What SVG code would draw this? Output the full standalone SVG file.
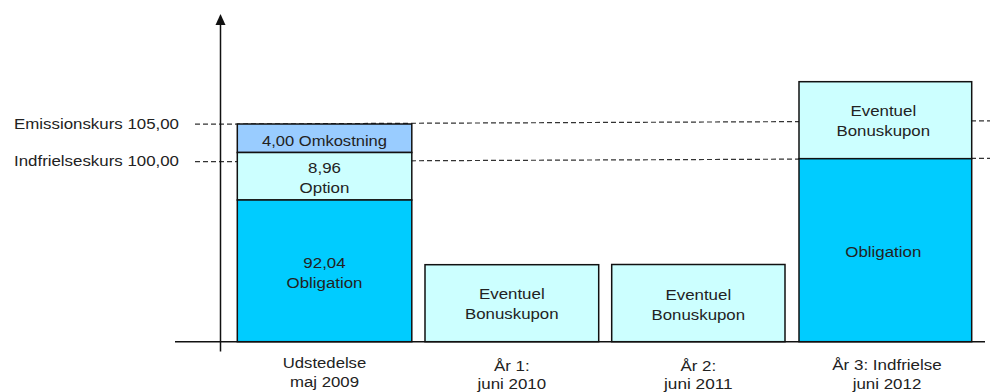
<svg xmlns="http://www.w3.org/2000/svg" width="994" height="392" viewBox="0 0 994 392">
<style>
text{font-family:"Liberation Sans",Arial,sans-serif;font-size:15.5px;fill:#222}
.c{text-anchor:middle}
.box{stroke:#111;stroke-width:1.5}
.omk{fill:#99CCFF}
.opt{fill:#CCFFFF}
.obl{fill:#00CCFF}
.dash{stroke:#333;stroke-width:1.2;stroke-dasharray:5,3;fill:none}
.axis{stroke:#111;stroke-width:1.5;fill:none}
</style>
<rect width="994" height="392" fill="#fff"/>

<g id="connectors">
<line class="dash" x1="195" y1="124.2" x2="990" y2="120.8"/>
<line class="dash" x1="195" y1="161.7" x2="990" y2="158.3"/>
<line class="axis" x1="175" y1="341.7" x2="985" y2="341.7"/>
<line class="axis" x1="220.5" y1="351.5" x2="220.5" y2="24"/>
<path d="M215.5,25 L220.5,14 L225.5,25 Z" fill="#111"/>
</g>

<g id="labels">
<text x="14" y="128.5" textLength="165" lengthAdjust="spacingAndGlyphs">Emissionskurs 105,00</text>
<text x="14" y="166" textLength="165" lengthAdjust="spacingAndGlyphs">Indfrielseskurs 100,00</text>
</g>

<g id="issue">
<rect class="box omk" x="237.3" y="124" width="174.5" height="28.5"/>
<rect class="box opt" x="237.3" y="152.5" width="174.5" height="47.5"/>
<rect class="box obl" x="237.3" y="200" width="174.5" height="141.7"/>
<text class="c" x="324.5" y="146" textLength="125" lengthAdjust="spacingAndGlyphs">4,00 Omkostning</text>
<text class="c" x="324.5" y="173" textLength="32.8" lengthAdjust="spacingAndGlyphs">8,96</text>
<text class="c" x="324.5" y="193" textLength="49.8" lengthAdjust="spacingAndGlyphs">Option</text>
<text class="c" x="324.5" y="268.3" textLength="42.3" lengthAdjust="spacingAndGlyphs">92,04</text>
<text class="c" x="324.5" y="288.3" textLength="76" lengthAdjust="spacingAndGlyphs">Obligation</text>
<text class="c" x="324.5" y="367.5" textLength="83.5" lengthAdjust="spacingAndGlyphs">Udstedelse</text>
<text class="c" x="324.5" y="387.3" textLength="69" lengthAdjust="spacingAndGlyphs">maj 2009</text>
</g>

<g id="year1">
<rect class="box opt" x="425" y="264.7" width="173.7" height="77"/>
<text class="c" x="511.8" y="299.3" textLength="65.7" lengthAdjust="spacingAndGlyphs">Eventuel</text>
<text class="c" x="511.8" y="319.3" textLength="93.5" lengthAdjust="spacingAndGlyphs">Bonuskupon</text>
<text class="c" x="511.8" y="370.5" textLength="35.7" lengthAdjust="spacingAndGlyphs">År 1:</text>
<text class="c" x="511.8" y="388.5" textLength="68.6" lengthAdjust="spacingAndGlyphs">juni 2010</text>
</g>

<g id="year2">
<rect class="box opt" x="611.7" y="264.5" width="173.3" height="77.2"/>
<text class="c" x="698.3" y="299.8" textLength="65.7" lengthAdjust="spacingAndGlyphs">Eventuel</text>
<text class="c" x="698.3" y="319.5" textLength="93.5" lengthAdjust="spacingAndGlyphs">Bonuskupon</text>
<text class="c" x="698.3" y="370.5" textLength="35.7" lengthAdjust="spacingAndGlyphs">År 2:</text>
<text class="c" x="698.3" y="388.5" textLength="68.6" lengthAdjust="spacingAndGlyphs">juni 2011</text>
</g>

<g id="year3">
<rect class="box opt" x="799" y="81.7" width="172.7" height="77"/>
<rect class="box obl" x="799" y="158.7" width="172.7" height="183"/>
<text class="c" x="883.3" y="116" textLength="65.7" lengthAdjust="spacingAndGlyphs">Eventuel</text>
<text class="c" x="883.3" y="136" textLength="93.5" lengthAdjust="spacingAndGlyphs">Bonuskupon</text>
<text class="c" x="883.3" y="256.5" textLength="76" lengthAdjust="spacingAndGlyphs">Obligation</text>
<text class="c" x="887" y="369.5" textLength="109.4" lengthAdjust="spacingAndGlyphs">År 3: Indfrielse</text>
<text class="c" x="887" y="388.5" textLength="68.6" lengthAdjust="spacingAndGlyphs">juni 2012</text>
</g>
</svg>
